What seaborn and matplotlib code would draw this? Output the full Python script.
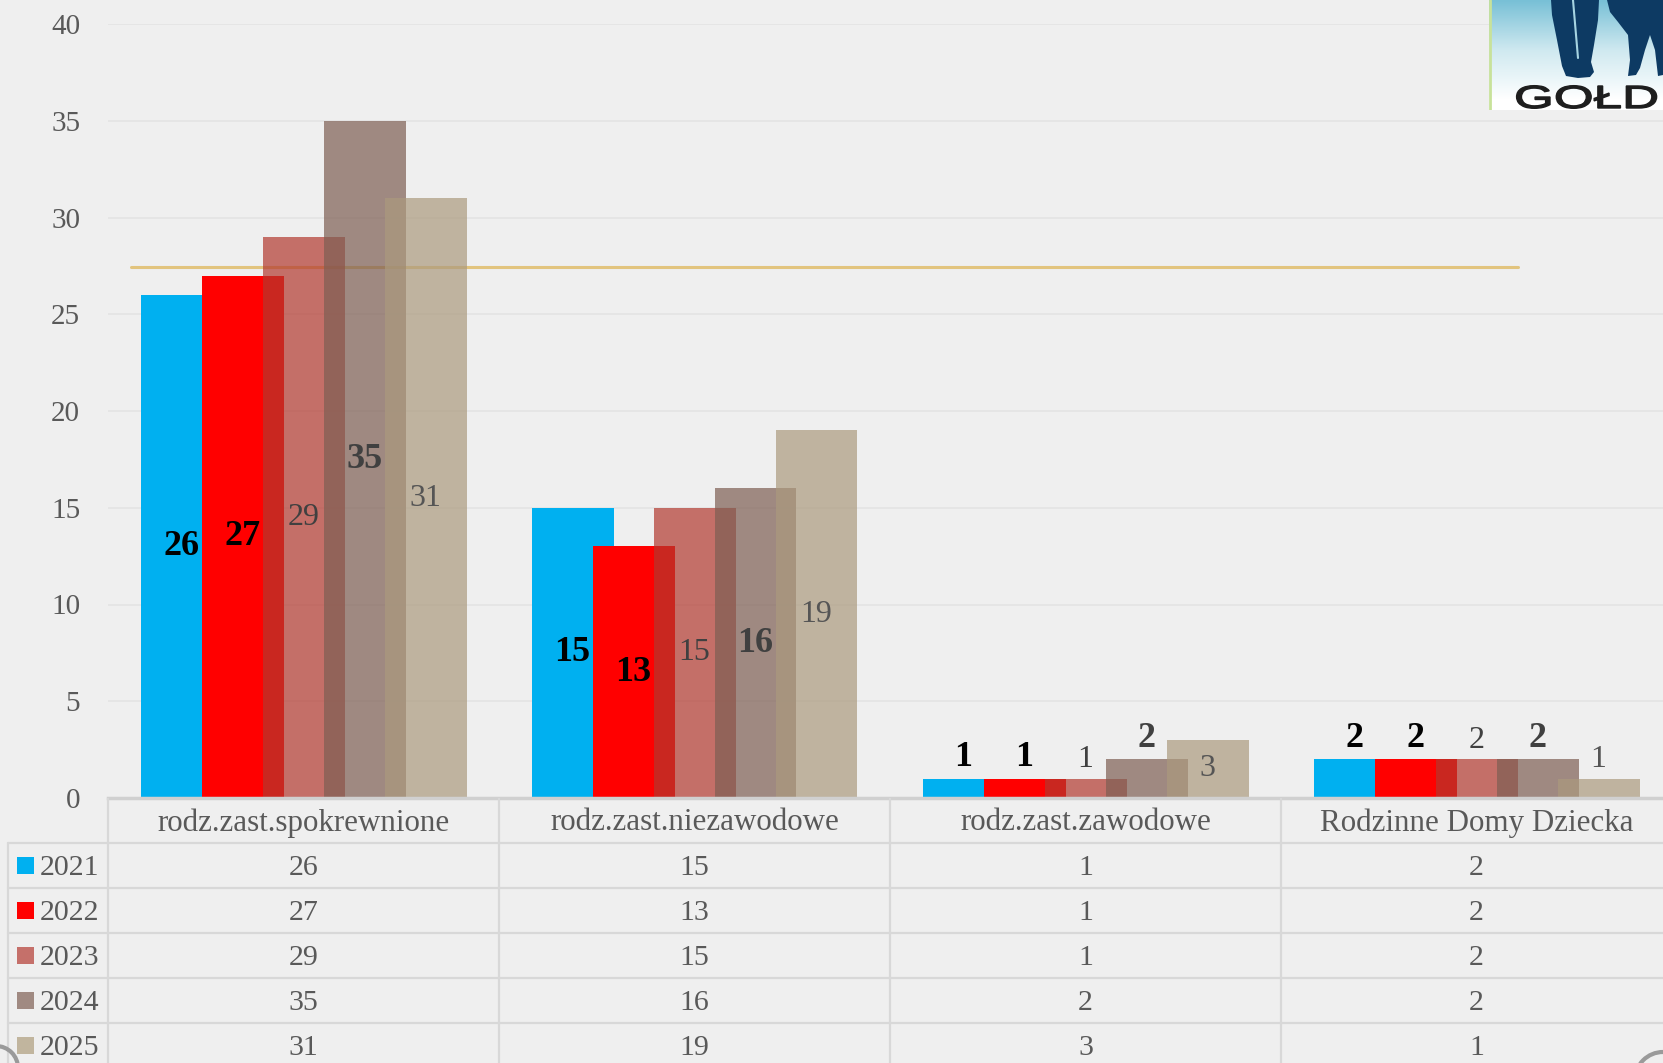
#!/usr/bin/env python3
"""Foster care placements by type, 2021-2025: overlapping grouped bars with a data table."""

import numpy as np
import matplotlib
matplotlib.use("Agg")
import matplotlib.pyplot as plt
from matplotlib.patches import Polygon, Rectangle, Circle, PathPatch
from matplotlib.textpath import TextPath
from matplotlib.font_manager import FontProperties
from matplotlib.transforms import Affine2D
import seaborn as sns

# ---- data -------------------------------------------------------------
categories = ["rodz.zast.spokrewnione", "rodz.zast.niezawodowe",
              "rodz.zast.zawodowe", "Rodzinne Domy Dziecka"]
years = ["2021", "2022", "2023", "2024", "2025"]
v2021 = [26, 15, 1, 2]
v2022 = [27, 13, 1, 2]
v2023 = [29, 15, 1, 2]
v2024 = [35, 16, 2, 2]
v2025 = [31, 19, 3, 1]
series = [v2021, v2022, v2023, v2024, v2025]
yticks = [0, 5, 10, 15, 20, 25, 30, 35, 40]
ref_line = 27.45  # decorative golden line from the slide

# ---- style ------------------------------------------------------------
colors = ["#00B0F0", "#FF0000", "#B2392F", "#7E5E53", "#AB9A7E"]
alphas = [1.0, 1.0, 0.7, 0.7, 0.7]
legend_colors = ["#00B0F0", "#FF0000", "#C5706A", "#A08A82", "#C1B59E"]
label_style = [("bold", "black", 26), ("bold", "black", 26), ("normal", "#404040", 23),
               ("bold", "#404040", 26), ("normal", "#555555", 23)]
BG = "#efefef"
GRID = "#e4e4e4"
LINE = "#d8d8d8"
TXT = "#595959"

sns.set_theme(style="white")
plt.rcParams["font.family"] = ["Liberation Serif", "DejaVu Serif"]

W, H = 1663, 1063
fig = plt.figure(figsize=(W / 100, H / 100), dpi=100, facecolor=BG)

COL_PX = 391.0
LEFT_PX = 108.0
X0 = -0.5
X1 = X0 + (W - LEFT_PX) / COL_PX
Y_ZERO_PX, Y_TOP_PX = 798.0, 24.0

ax = fig.add_axes([LEFT_PX / W, (H - Y_ZERO_PX) / H, 1 - LEFT_PX / W, (Y_ZERO_PX - Y_TOP_PX) / H])
ax.set_facecolor("none")

pos = np.arange(len(categories))
step = 61 / COL_PX
bar_w = 82 / COL_PX

for i, vals in enumerate(series):
    sns.barplot(x=pos + (i - 2) * step, y=vals, native_scale=True, orient="x",
                width=bar_w, color=colors[i], alpha=alphas[i], saturation=1,
                errorbar=None, linewidth=0, ax=ax, zorder=2 + i)
    cont = ax.containers[-1]
    weight, col, fs = label_style[i]
    inner = [str(v) if v >= 3 else "" for v in vals]
    outer = [str(v) if v < 3 else "" for v in vals]
    ax.bar_label(cont, labels=inner, label_type="center", fontweight=weight,
                 color=col, fontsize=fs, zorder=10)
    ax.bar_label(cont, labels=outer, label_type="edge", padding=3, fontweight=weight,
                 color=col, fontsize=fs, zorder=10)

ax.axhline(ref_line, xmin=23 / (W - LEFT_PX), xmax=1410 / (W - LEFT_PX),
           color="#E2C47E", lw=2.2, zorder=1)

ax.set_xlim(X0, X1)
ax.set_ylim(0, 40)
ax.set_yticks(yticks)
ax.set_yticklabels([str(t) for t in yticks], fontsize=21, color=TXT)
ax.tick_params(axis="y", length=0, pad=20)
ax.set_xticks([])
ax.set_xlabel("")
ax.set_ylabel("")
ax.yaxis.grid(True, color=GRID, lw=1.2)
ax.set_axisbelow(True)
for s in ["top", "right", "left"]:
    ax.spines[s].set_visible(False)
ax.spines["bottom"].set_color("#d0d0d0")
ax.spines["bottom"].set_linewidth(2.5)
ax.spines["bottom"].set_zorder(20)

# ---- data table -------------------------------------------------------
tab = fig.add_axes([0, 0, 1, (H - Y_ZERO_PX) / H])
tab.set_facecolor("none")
tab.axis("off")
tx0 = X0 - LEFT_PX / COL_PX
tab.set_xlim(tx0, X1)
n_rows_vis = (H - Y_ZERO_PX) / 45.0
tab.set_ylim(n_rows_vis, 0)
px = lambda p: tx0 + p / COL_PX

for r in range(1, len(years) + 1):
    tab.plot([px(8), X1], [r, r], color=LINE, lw=1.6)
tab.plot([px(8), px(8)], [1, n_rows_vis], color=LINE, lw=1.6)
for c in range(len(categories)):
    tab.plot([c - 0.5, c - 0.5], [0, n_rows_vis], color=LINE, lw=1.6)
    tab.text(c, 0.55, categories[c], ha="center", va="center", fontsize=22.3, color=TXT)
for r, (yr, vals) in enumerate(zip(years, series), start=1):
    tab.add_patch(Rectangle((px(17), r + 0.5 - 8.5 / 45), 17 / COL_PX, 17 / 45,
                            color=legend_colors[r - 1], lw=0))
    tab.text(px(40), r + 0.55, yr, ha="left", va="center", fontsize=21.5, color=TXT)
    for c, v in enumerate(vals):
        tab.text(c, r + 0.55, str(v), ha="center", va="center", fontsize=21.5, color=TXT)

# ---- logo fragment (top right) ---------------------------------------
lg = fig.add_axes([1489 / W, (H - 110) / H, (W - 1489) / W, 110 / H])
lg.axis("off")
lg.set_xlim(1489, W)
lg.set_ylim(110, 0)
grad = np.linspace(0, 1, 100)[:, None]
cmap = matplotlib.colors.LinearSegmentedColormap.from_list("sky", ["#78c0d6", "#cfe9f0", "#ffffff"])
lg.imshow(grad, aspect="auto", cmap=cmap, extent=(1489, W, 100, 0), zorder=0)
lg.add_patch(Rectangle((1489, 100), W - 1489, 10, color="white", lw=0, zorder=0))
navy = "#0d3a63"
lg.add_patch(Polygon([(1551, 0), (1599, 0), (1598, 20), (1594, 45), (1591, 62), (1594, 72),
                      (1590, 77), (1578, 78), (1566, 76), (1562, 66), (1557, 40), (1552, 15)],
                     color=navy, lw=0, zorder=2))
lg.plot([1573, 1578], [0, 58], color="#a6d4e2", lw=1.5, zorder=3)
lg.add_patch(Polygon([(1607, 0), (1663, 0), (1663, 75), (1658, 76), (1655, 50), (1650, 35),
                      (1645, 50), (1640, 68), (1636, 75), (1628, 76), (1630, 60), (1628, 35),
                      (1618, 22), (1610, 12)], color=navy, lw=0, zorder=2))
lg.plot([1490, 1490], [0, 110], color="#c8e29a", lw=2, zorder=3)
word = TextPath((0, 0), "GOŁD", size=32, prop=FontProperties(family="Liberation Sans"))
word_tr = Affine2D().scale(1.6, -1).translate(1514, 108) + lg.transData
lg.add_patch(PathPatch(word, transform=word_tr, color="#1e1e1e", lw=1.0, zorder=4))

# ---- corner ornaments ---------------------------------------------------
ov = fig.add_axes([0, 0, 1, 1])
ov.axis("off")
ov.set_facecolor("none")
ov.set_xlim(0, W)
ov.set_ylim(H, 0)
ov.add_patch(Circle((-4, 1068), 22, fill=False, ec="#9a9a9a", lw=3))
ov.add_patch(Circle((1663, 1080), 28, fill=False, ec="#9a9a9a", lw=3))

fig.savefig("out.png", dpi=100, facecolor=BG)
